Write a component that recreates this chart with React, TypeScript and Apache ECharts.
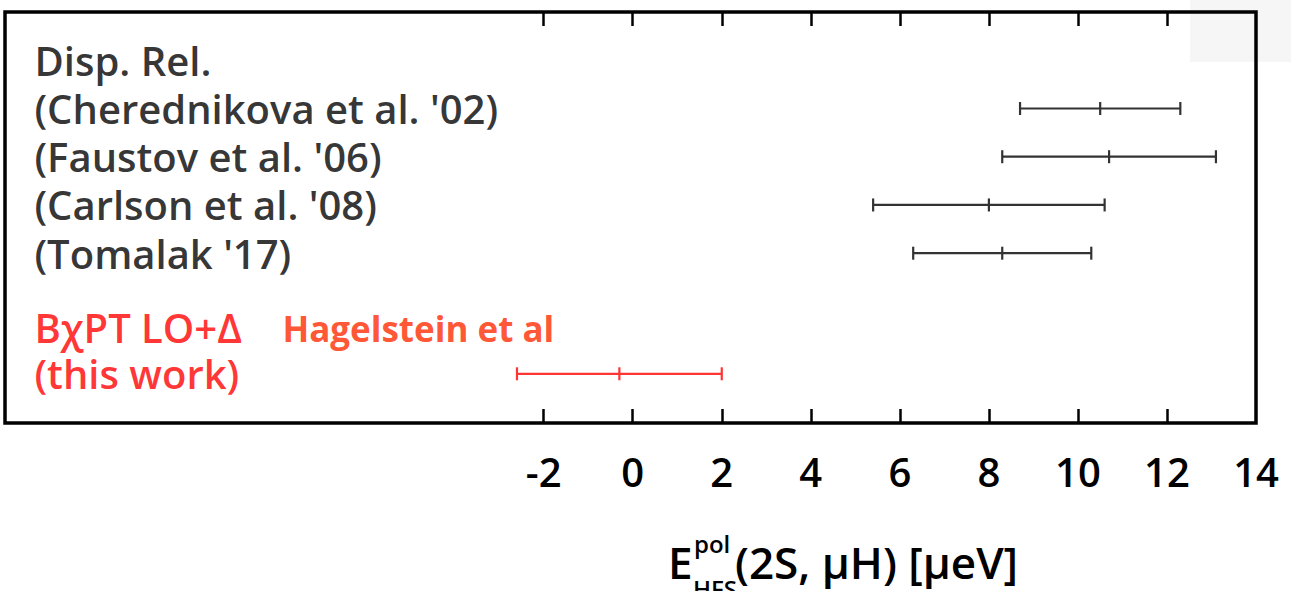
import React, { useEffect, useRef } from "react";
import * as echarts from "echarts";

// ---- data ----
const rowLabels = [
  "Disp. Rel.",
  "(Cherednikova et al. '02)",
  "(Faustov et al. '06)",
  "(Carlson et al. '08)",
  "(Tomalak '17)",
];
const rowLabelPos = [1, 2, 3, 4, 5];

const dispRows = [2, 3, 4, 5];
const dispLow = [8.7, 8.3, 5.4, 6.3];
const dispMid = [10.5, 10.7, 8.0, 8.3];
const dispHigh = [12.3, 13.1, 10.6, 10.3];

const thisLabels = ["B\u03C7PT LO+\u0394", "(this work)"];
const thisLabelPos = [6.53, 7.5];
const thisRows = [7.5];
const thisLow = [-2.6];
const thisMid = [-0.3];
const thisHigh = [2.0];

const refLabel = ["Hagelstein et al"];
const refLabelPos = [6.57];
const refLabelX = [-7.88];

const xTickValues = [-2, 0, 2, 4, 6, 8, 10, 12];
const xLabelValues = [-2, 0, 2, 4, 6, 8, 10, 12, 14];
const xMin = -14.1;
const xMax = 14;
const yMin = 0;
const yMax = 8.52;
const labelX = -13.45;

const FONT = "'Open Sans'";

function errorBarSeries(rows: number[], lo: number[], mid: number[], hi: number[], color: string, width: number) {
  return {
    type: "custom",
    data: rows.map((r, i) => [r, lo[i], mid[i], hi[i]]),
    renderItem: (params: any, api: any) => {
      const y = api.value(0);
      const pL = api.coord([api.value(1), y]);
      const pM = api.coord([api.value(2), y]);
      const pH = api.coord([api.value(3), y]);
      const h = 6.5;
      const st = { stroke: color, lineWidth: width };
      return {
        type: "group",
        children: [
          { type: "line", shape: { x1: pL[0], y1: pL[1], x2: pH[0], y2: pH[1] }, style: st },
          { type: "line", shape: { x1: pL[0], y1: pL[1] - h, x2: pL[0], y2: pL[1] + h }, style: st },
          { type: "line", shape: { x1: pM[0], y1: pM[1] - h, x2: pM[0], y2: pM[1] + h }, style: st },
          { type: "line", shape: { x1: pH[0], y1: pH[1] - h, x2: pH[0], y2: pH[1] + h }, style: st },
        ],
      };
    },
    encode: { x: [1, 2, 3], y: 0 },
    z: 5,
  };
}

function labelSeries(names: string[], xs: number[], ys: number[], color: string, size: number, weight: any) {
  return {
    type: "scatter",
    symbolSize: 1,
    itemStyle: { color: "rgba(0,0,0,0)" },
    data: names.map((n, i) => ({ name: n, value: [xs[i], ys[i]] })),
    label: {
      show: true,
      position: "right",
      distance: 0,
      formatter: (p: any) => p.name,
      color,
      fontFamily: FONT,
      fontSize: size,
      fontWeight: weight,
      lineHeight: size,
      align: "left",
      verticalAlign: "middle",
    },
    silent: true,
    z: 6,
  };
}

export default function App() {
  const ref = useRef<HTMLDivElement>(null);
  useEffect(() => {
    if (!ref.current) return;
    const chart = echarts.init(ref.current, undefined, { renderer: "svg" });
    const tickCommon = {
      show: true,
      inside: true,
      length: 14,
      customValues: xTickValues,
      lineStyle: { color: "#000", width: 2.5 },
    };
    const option: any = {
      animation: false,
      backgroundColor: "#ffffff",
      grid: {
        show: true,
        left: 5,
        right: 35,
        top: 12,
        bottom: 168,
        borderColor: "#000000",
        borderWidth: 3.5,
        backgroundColor: "transparent",
        z: 10,
      },
      xAxis: [
        {
          type: "value",
          position: "bottom",
          min: xMin,
          max: xMax,
          axisLine: { show: false, onZero: false },
          splitLine: { show: false },
          axisTick: tickCommon,
          axisLabel: {
            show: true,
            customValues: xLabelValues,
            margin: 27,
            fontFamily: FONT,
            fontSize: 40,
            fontWeight: 600,
            lineHeight: 42,
            color: "#000",
            formatter: (v: number) => String(v),
          },
        },
        {
          type: "value",
          position: "top",
          min: xMin,
          max: xMax,
          axisLine: { show: false, onZero: false },
          splitLine: { show: false },
          axisTick: tickCommon,
          axisLabel: { show: false },
        },
      ],
      yAxis: {
        type: "value",
        min: yMin,
        max: yMax,
        inverse: true,
        show: false,
        axisLine: { onZero: false },
      },
      graphic: [
        {
          type: "rect",
          shape: { x: 1190, y: 0, width: 101, height: 62 },
          style: { fill: "#f6f6f6" },
          z: -10,
          silent: true,
        },
        {
          type: "text",
          x: 668,
          y: 562,
          style: { text: "E", font: `600 44px ${FONT}`, fill: "#000", verticalAlign: "middle" },
        },
        {
          type: "text",
          x: 694,
          y: 543,
          style: { text: "pol", font: `600 24px ${FONT}`, fill: "#000", verticalAlign: "middle" },
        },
        {
          type: "text",
          x: 693,
          y: 588,
          style: { text: "HFS", font: `600 24px ${FONT}`, fill: "#000", verticalAlign: "middle" },
        },
        {
          type: "text",
          x: 735,
          y: 562,
          style: { text: "(2S, \u03BCH) [\u03BCeV]", font: `600 44px ${FONT}`, fill: "#000", verticalAlign: "middle" },
        },
      ],
      series: [
        errorBarSeries(dispRows, dispLow, dispMid, dispHigh, "#333333", 2.2),
        errorBarSeries(thisRows, thisLow, thisMid, thisHigh, "#ff3535", 2.2),
        labelSeries(rowLabels, rowLabelPos.map(() => labelX), rowLabelPos, "#000000", 40, 600),
        labelSeries(thisLabels, thisLabelPos.map(() => labelX), thisLabelPos, "#ff0000", 40, 600),
        labelSeries(refLabel, refLabelX, refLabelPos, "#ff2a00", 35, 700),
      ],
    };
    chart.setOption(option);
    return () => chart.dispose();
  }, []);
  return (
    <div
      ref={ref}
      style={{ position: "fixed", left: 0, top: 0, width: 1291, height: 591 }}
    />
  );
}
